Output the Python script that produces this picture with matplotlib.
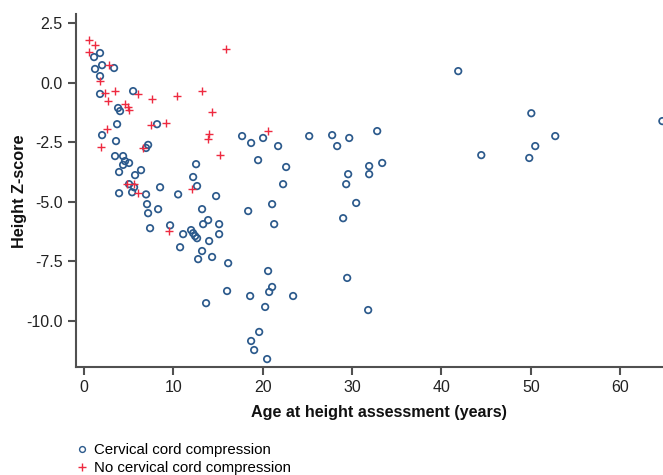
import matplotlib
matplotlib.use("Agg")
import matplotlib.pyplot as plt
from matplotlib.lines import Line2D

plt.rcParams['font.family'] = ['Liberation Sans', 'DejaVu Sans']

# Cervical cord compression (age, height z-score)
comp_age = [1.12, 1.79, 1.23, 2.02, 1.79, 3.36, 1.79, 5.49, 3.81, 4.03, 3.70, 8.17,
            2.02, 3.58, 7.17, 6.94, 3.47, 4.37, 4.59, 5.04, 4.37, 3.92, 6.38, 5.71,
            5.04, 5.60, 5.38, 3.92, 6.94, 8.51, 10.53, 12.54, 12.21, 12.65, 14.78,
            7.05, 8.29, 7.17, 7.39, 9.63, 11.09, 11.98, 12.21, 12.43, 12.65, 10.75,
            13.21, 13.89, 13.33, 15.12, 15.12, 14.0, 13.21, 12.77, 14.33, 13.66,
            19.48, 18.37, 16.13, 20.60, 21.05, 20.72, 16.01, 18.59, 20.27, 19.60,
            18.70, 19.04, 20.49, 17.69, 18.70, 20.04, 21.72, 25.20, 27.77, 28.33,
            29.68, 32.81, 22.62, 22.28, 29.56, 29.34, 31.91, 31.91, 33.37, 21.05,
            21.28, 30.46, 29.00, 29.45, 31.80, 23.40, 41.88, 50.06, 52.74, 50.50,
            49.83, 44.46, 64.73]
comp_z = [1.08, 1.25, 0.58, 0.74, 0.28, 0.62, -0.47, -0.35, -1.06, -1.19, -1.74, -1.74,
          -2.20, -2.45, -2.61, -2.74, -3.08, -3.08, -3.29, -3.37, -3.45, -3.75, -3.67, -3.88,
          -4.26, -4.39, -4.60, -4.64, -4.69, -4.39, -4.69, -3.42, -3.96, -4.34, -4.76,
          -5.10, -5.31, -5.48, -6.11, -5.99, -6.36, -6.19, -6.32, -6.44, -6.53, -6.91,
          -5.31, -5.77, -5.94, -5.94, -6.36, -6.65, -7.07, -7.41, -7.32, -9.26,
          -3.25, -5.39, -7.58, -7.91, -8.58, -8.79, -8.75, -8.96, -9.42, -10.47,
          -10.85, -11.23, -11.61, -2.24, -2.53, -2.32, -2.66, -2.24, -2.20, -2.66,
          -2.32, -2.03, -3.54, -4.26, -3.84, -4.26, -3.50, -3.84, -3.37, -5.10,
          -5.94, -5.05, -5.69, -8.20, -9.55, -8.96, 0.49, -1.28, -2.24, -2.66,
          -3.16, -3.04, -1.61]

# No cervical cord compression
nocomp_age = [0.56, 1.23, 0.56, 2.8, 1.79, 2.35, 3.47, 2.69, 4.59, 4.93, 5.04, 6.05,
              7.61, 10.4, 13.2, 14.3, 2.58, 1.9, 7.5, 9.18, 6.6, 14.0, 13.9, 15.2,
              15.9, 20.6, 12.1, 9.5, 4.8, 5.6, 6.05]
nocomp_z = [1.79, 1.58, 1.29, 0.74, 0.07, -0.43, -0.35, -0.77, -0.89, -1.02, -1.15, -0.47,
            -0.68, -0.56, -0.35, -1.23, -1.95, -2.7, -1.78, -1.69, -2.74, -2.16, -2.37, -3.04,
            1.42, -2.03, -4.47, -6.23, -4.26, -4.26, -4.64]

x_ticks = [0, 10, 20, 30, 40, 50, 60]
y_ticks = [2.5, 0.0, -2.5, -5.0, -7.5, -10.0]

blue = '#2c5a8c'
red = '#ee2a40'
spine = '#505050'

fig = plt.figure(figsize=(6.63, 4.75), dpi=100)
ax = fig.add_axes([76/663, 1-366.7/475, 1-76/663, (366.7-14)/475])

ax.scatter(comp_age, comp_z, s=22, facecolors='none', edgecolors=blue, linewidths=1.25, zorder=3)
ax.scatter(nocomp_age, nocomp_z, s=30, marker='+', color=red, linewidths=1.0, zorder=3)

ax.set_xlim(-0.9, 64.8)
ax.set_ylim(-11.93, 2.89)
ax.set_xticks(x_ticks)
ax.set_yticks(y_ticks)
ax.set_yticklabels([f"{v:.1f}" for v in y_ticks])

for s in ['top', 'right']:
    ax.spines[s].set_visible(False)
for s in ['left', 'bottom']:
    ax.spines[s].set_color(spine)
    ax.spines[s].set_linewidth(1.5)
ax.tick_params(axis='both', colors=spine, width=1.5, length=6, labelsize=11.5, labelcolor='#222222')

ax.set_xlabel('Age at height assessment (years)', fontsize=11.6, fontweight='bold', color='#111111')
ax.set_ylabel('Height Z-score', fontsize=11.7, fontweight='bold', color='#111111')
ax.xaxis.set_label_coords((379-76)/(663-76), -(405-366.7)/(366.7-14))
ax.yaxis.set_label_coords(-(76-27)/(663-76), (366.7-191)/(366.7-14))

handles = [
    Line2D([], [], linestyle='none', marker='o', markersize=4.2, markerfacecolor='none',
           markeredgecolor=blue, markeredgewidth=1.0, label='Cervical cord compression'),
    Line2D([], [], linestyle='none', marker='+', markersize=6, color=red,
           markeredgewidth=1.0, label='No cervical cord compression'),
]
fig.legend(handles=handles, loc='upper left', bbox_to_anchor=(76/663, 1-443/475),
           frameon=False, fontsize=10.8, handlelength=0.8, handletextpad=0.4,
           labelspacing=0.25, borderpad=0, borderaxespad=0)

fig.savefig('out.png', dpi=100)
